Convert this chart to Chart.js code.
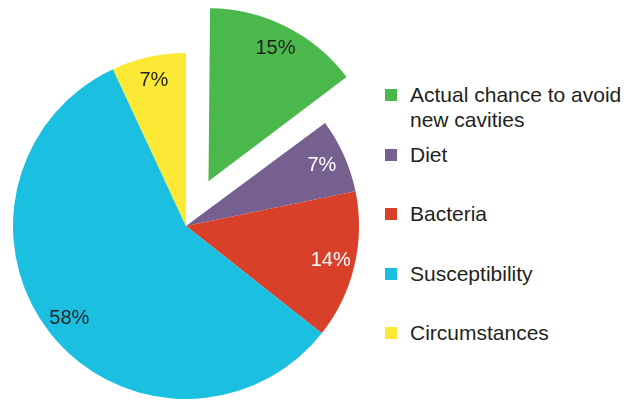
<!DOCTYPE html>
<html>
<head>
<meta charset="utf-8">
<script src="https://cdn.jsdelivr.net/npm/chart.js@4/dist/chart.umd.min.js"></script>
<style>
    html, body { margin: 0; padding: 0; background: #fff; overflow: hidden; }
    body { width: 634px; height: 403px; position: relative; font-family: "Liberation Sans", Arial, sans-serif; }
    #chartBox { position: absolute; left: 0; top: 0; width: 372px; height: 403px; }
    #legend { position: absolute; left: 385px; top: 0; margin: 0; padding: 0; list-style: none; }
    #legend li { position: absolute; left: 0; width: 240px; display: flex; align-items: flex-start; }
    #legend .swatch { width: 12px; height: 12px; margin-top: 7px; flex: none; }
    #legend .text { margin-left: 13px; width: 215px; font-size: 21px; line-height: 25px; color: #231f20; }
</style>
</head>
<body>
<div id="chartBox"><canvas id="pieChart"></canvas></div>
<ul id="legend"></ul>
<script>
document.addEventListener('DOMContentLoaded', function () {
    // Slice names and shares (%)
    const categories = ['Actual chance to avoid new cavities', 'Diet', 'Bacteria', 'Susceptibility', 'Circumstances'];
    const shares = [15, 7, 14, 58, 7];

    const sliceColors = ['#4bb84b', '#75608f', '#d9402a', '#1bc0e0', '#fbe935'];
    const labelColors = ['#231f20', '#ffffff', '#ffffff', '#231f20', '#231f20'];
    // pixel shift of each slice away from the centre (Chart.js moves arcs by offset / 4)
    const sliceShift = [50, 0, 0, 0, 0];
    const pieRadius = 173;

    // Chart.js also grows an offset arc's radius; shrink it back so all slices share one radius
    const keepRadius = {
        id: 'keepRadius',
        afterDatasetUpdate(chart) {
            chart.getDatasetMeta(0).data.forEach((arc, i) => {
                if (!sliceShift[i]) return;
                const circ = arc.endAngle - arc.startAngle;
                const fix = 1 - Math.sin(Math.min(Math.PI, circ));
                arc.outerRadius -= sliceShift[i] * fix;
            });
        }
    };

    // Percent labels drawn inside each slice
    const sliceLabels = {
        id: 'sliceLabels',
        afterDatasetsDraw(chart) {
            const ctx = chart.ctx;
            const arcs = chart.getDatasetMeta(0).data;
            ctx.save();
            ctx.font = '20px "Liberation Sans", Arial, sans-serif';
            ctx.textAlign = 'center';
            ctx.textBaseline = 'middle';
            arcs.forEach((arc, i) => {
                const mid = (arc.startAngle + arc.endAngle) / 2;
                const r = sliceShift[i] + pieRadius * 0.86;
                ctx.fillStyle = labelColors[i];
                ctx.fillText(shares[i] + '%', arc.x + Math.cos(mid) * r, arc.y + Math.sin(mid) * r);
            });
            ctx.restore();
        }
    };

    const ctx = document.getElementById('pieChart').getContext('2d');
    new Chart(ctx, {
        type: 'pie',
        data: {
            labels: categories,
            datasets: [{
                data: shares,
                backgroundColor: sliceColors,
                borderWidth: 0,
                offset: sliceShift.map(s => s * 4)
            }]
        },
        options: {
            responsive: true,
            maintainAspectRatio: false,
            animation: false,
            radius: pieRadius,
            layout: { padding: { top: 49, bottom: 0, left: 0, right: 0 } },
            plugins: {
                legend: { display: false },
                tooltip: { enabled: false }
            }
        },
        plugins: [keepRadius, sliceLabels]
    });

    // Legend on the right
    const legend = document.getElementById('legend');
    categories.forEach((name, i) => {
        const li = document.createElement('li');
        li.style.top = (82 + i * 59.5) + 'px';
        li.innerHTML = '<span class="swatch" style="background:' + sliceColors[i] + '"></span>' +
            '<span class="text">' + name + '</span>';
        legend.appendChild(li);
    });
});
</script>
</body>
</html>
